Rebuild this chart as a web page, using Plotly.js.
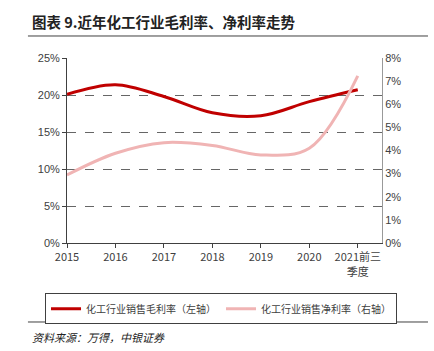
<!DOCTYPE html>
<html><head><meta charset="utf-8">
<script src="https://cdn.plot.ly/plotly-3.0.1.min.js"></script>
<style>html,body{margin:0;padding:0;background:#fff}#c{width:434px;height:351px}</style>
</head><body><div id="c"></div>
<script>
const categories = ["2015","2016","2017","2018","2019","2020","2021前三<br>季度"];
const grossMargin = [20.1, 21.4, 19.8, 17.6, 17.2, 19.1, 20.7];
const netMargin = [2.94, 3.88, 4.34, 4.22, 3.81, 4.1, 7.23];
const leftTicks = [0,5,10,15,20,25];
const rightTicks = [0,1,2,3,4,5,6,7,8];
const F = "Liberation Sans, Arial, Noto Sans CJK SC";
const CJK = "Noto Sans CJK SC, Liberation Sans";

const traces = [
 {x: categories, y: grossMargin, type:'scatter', mode:'lines', name:'化工行业销售毛利率（左轴）',
  line:{color:'#c00000', width:3, shape:'spline', smoothing:1}},
 {x: categories, y: netMargin, type:'scatter', mode:'lines', name:'化工行业销售净利率（右轴）', yaxis:'y2',
  line:{color:'#f0b4b4', width:3, shape:'spline', smoothing:1}}
];
const layout = {
 width:434, height:351, margin:{l:67, r:52, t:58, b:108},
 paper_bgcolor:'#fff', plot_bgcolor:'#fff', showlegend:true,
 font:{family:F, size:11, color:'#404040'},
 xaxis:{type:'category', range:[0,6.5], showgrid:false, showline:true, linecolor:'#404040', linewidth:1,
   ticks:'outside', ticklen:4, tickcolor:'#404040', tickfont:{family:CJK, size:11, color:'#404040'}, zeroline:false},
 yaxis:{range:[0,25], tickvals:leftTicks, ticktext:leftTicks.map(v=>v+'%'), showgrid:true, gridcolor:'#666', griddash:'dash', gridwidth:1,
   showline:true, linecolor:'#404040', linewidth:1, ticks:'outside', ticklen:4, tickcolor:'#404040', zeroline:false},
 yaxis2:{range:[0,8], overlaying:'y', side:'right', tickvals:rightTicks, ticktext:rightTicks.map(v=>v+'%'), showgrid:false,
   showline:true, linecolor:'#999', linewidth:1, ticks:'', zeroline:false},
 legend:{orientation:'h', x:-0.0698, xanchor:'left', y:-0.272, yanchor:'top',
   bordercolor:'#404040', borderwidth:1, font:{family:CJK, size:10, color:'#404040'}, tracegroupgap:0},
 shapes:[
  {type:'line', xref:'paper', yref:'paper', x0:-0.124, x1:1.146, y0:1.119, y1:1.119, line:{color:'#404040', width:1}},
  {type:'line', xref:'paper', yref:'paper', x0:-0.124, x1:1.146, y0:-0.427, y1:-0.427, line:{color:'#404040', width:1}}
 ],
 annotations:[
  {xref:'paper', yref:'paper', x:-0.117, y:1.195, xanchor:'left', yanchor:'middle', showarrow:false,
   text:'<b>图表 9.近年化工行业毛利率、净利率走势</b>', font:{family:'Noto Sans CJK SC', size:14.5, color:'#222'}},
  {xref:'paper', yref:'paper', x:-0.117, y:-0.508, xanchor:'left', yanchor:'middle', showarrow:false,
   text:'<i>资料来源：万得，中银证券</i>', font:{family:'Noto Sans CJK SC', size:11, color:'#222'}}
 ]
};
Plotly.newPlot('c', traces, layout, {displayModeBar:false, staticPlot:true});
</script></body></html>
